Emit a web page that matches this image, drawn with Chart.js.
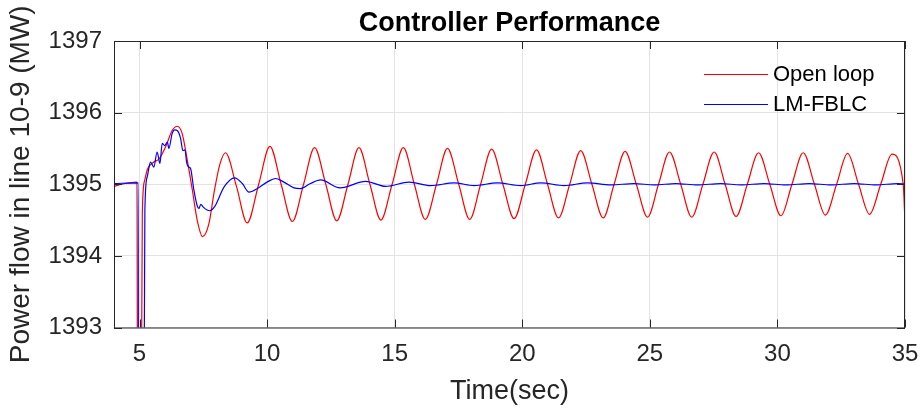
<!DOCTYPE html>
<html>
<head>
<meta charset="UTF-8">
<title>Controller Performance</title>
<script src="https://cdn.jsdelivr.net/npm/chart.js"></script>
<style>
  html, body { margin: 0; padding: 0; background: #fff; }
  #wrap { width: 921px; height: 412px; }
</style>
</head>
<body>
<div id="wrap"><canvas id="perfChart" width="921" height="412"></canvas></div>
<script>
// Values (time in sec, power in MW)
const openLoopTime = [
  4, 4.3, 4.6, 4.9, 4.93, 5.04, 5.11, 5.2, 5.3, 5.56, 5.76, 6.02, 6.28, 6.48, 6.67, 6.87,
  7.07, 7.26, 7.47, 7.72, 7.93, 8.15, 8.37, 8.8, 9.22, 9.67, 10.11, 10.55, 10.99, 11.43,
  11.86, 12.3, 12.73, 13.17, 13.6, 14.03, 14.46, 14.9, 15.34, 15.77, 16.2, 16.64, 17.07,
  17.51, 17.94, 18.37, 18.8, 19.24, 19.68, 20.12, 20.56, 20.99, 21.42, 21.86, 22.29, 22.73,
  23.17, 23.6, 24.03, 24.47, 24.91, 25.34, 25.77, 26.21, 26.64, 27.08, 27.52, 27.95, 28.38,
  28.82, 29.26, 29.7, 30.14, 30.57, 31.01, 31.45, 31.88, 32.32, 32.75, 33.18, 33.61, 34.05,
  34.49, 34.93, 35
];
const openLoopPower = [
  1394.97, 1395.0, 1395.02, 1395.03, 1390, 1390, 1394.6, 1395.05, 1395.2, 1395.31, 1395.35,
  1395.52, 1395.75, 1395.81, 1395.71, 1395.34, 1394.92, 1394.5, 1394.27, 1394.45, 1394.9,
  1395.28, 1395.44, 1394.97, 1394.46, 1395.0, 1395.53, 1395.0, 1394.48, 1395.0,
  1395.51, 1395.0, 1394.49, 1395.0, 1395.51, 1395.0, 1394.5, 1395.0, 1395.51, 1395.0,
  1394.51, 1395.0, 1395.5, 1395.0, 1394.51, 1395.0, 1395.49, 1395.0, 1394.52, 1395.0,
  1395.48, 1395.0, 1394.53, 1395.0, 1395.47, 1395.0, 1394.53, 1395.0, 1395.46, 1395.0,
  1394.54, 1395.0, 1395.45, 1395.0, 1394.54, 1395.0, 1395.45, 1395.0, 1394.55, 1395.0,
  1395.44, 1395.0, 1394.56, 1395.0, 1395.44, 1395.0, 1394.57, 1395.0, 1395.43, 1395.0,
  1394.58, 1395.0, 1395.42, 1395.0, 1394.47
];

const fblcTime = [
  4, 4.95, 4.96, 5.15, 5.21, 5.3, 5.43, 5.56, 5.69, 5.8, 5.89, 5.99, 6.09, 6.15, 6.28, 6.38,
  6.48, 6.61, 6.7, 6.78, 6.85, 6.93, 7.0, 7.13, 7.26, 7.33, 7.4, 7.5, 7.65, 7.75, 7.95,
  8.31, 8.73, 9.03, 9.29, 9.62, 10.0, 10.33, 10.66, 11.05, 11.31, 11.7, 12.1, 12.86, 13.86,
  14.65, 15.56, 16.41, 17.33, 18.11, 19.03, 19.94, 20.73, 21.64, 22.56, 23.47, 24.38, 25.17,
  26.02, 26.87, 27.78, 28.57, 29.48, 30.33, 31.25, 32.1, 33.01, 33.86, 34.71, 35
];
const fblcPower = [
  1395.01, 1395.02, 1390, 1390, 1394.64, 1395.1, 1395.31, 1395.24, 1395.45, 1395.29,
  1395.57, 1395.54, 1395.59, 1395.5, 1395.71, 1395.76, 1395.75, 1395.64, 1395.47, 1395.48,
  1395.3, 1395.24, 1395.22, 1394.92, 1394.7, 1394.66, 1394.72, 1394.68, 1394.64, 1394.63,
  1394.69, 1394.96, 1395.09, 1395.01, 1394.89, 1394.94, 1395.03, 1395.08, 1395.03, 1394.95,
  1394.94, 1395.01, 1395.06, 1394.95, 1395.04, 1394.97, 1395.03, 1394.98, 1395.02, 1394.98,
  1395.02, 1394.98, 1395.02, 1394.98, 1395.02, 1394.99, 1395.01, 1394.99, 1395.01, 1394.99,
  1395.01, 1394.99, 1395.01, 1394.99, 1395.01, 1394.99, 1395.01, 1394.99, 1395.01, 1395.0
];

const xTicks = [5, 10, 15, 20, 25, 30, 35];
const yTicks = [1393, 1394, 1395, 1396, 1397];

const toPoints = (xs, ys) => xs.map((x, i) => ({ x: x, y: ys[i] }));

const axisGrey = '#262626';
const fontFamily = '"Liberation Sans", Arial, Helvetica, sans-serif';

// MATLAB style frame: full box, inward ticks, legend without box, title
const matlabFrame = {
  id: 'matlabFrame',
  afterDraw(chart) {
    const { ctx, chartArea: a, scales } = chart;
    ctx.save();
    ctx.strokeStyle = axisGrey;
    ctx.lineWidth = 1;
    ctx.strokeRect(a.left + 0.5, a.top + 0.5, a.right - a.left - 1, a.bottom - a.top);

    const tl = 8;
    ctx.beginPath();
    xTicks.forEach(v => {
      const px = Math.round(scales.x.getPixelForValue(v)) + 0.5;
      ctx.moveTo(px, a.bottom); ctx.lineTo(px, a.bottom - tl);
      ctx.moveTo(px, a.top); ctx.lineTo(px, a.top + tl);
    });
    yTicks.forEach(v => {
      const py = Math.round(scales.y.getPixelForValue(v)) + 0.5;
      ctx.moveTo(a.left, py); ctx.lineTo(a.left + tl, py);
      ctx.moveTo(a.right, py); ctx.lineTo(a.right - tl, py);
    });
    ctx.stroke();

    // legend
    ctx.font = '22px ' + fontFamily;
    ctx.textBaseline = 'middle';
    ctx.textAlign = 'left';
    chart.data.datasets.forEach((ds, i) => {
      const y = 74 + i * 30 + 0.5;
      ctx.strokeStyle = ds.borderColor;
      ctx.beginPath();
      ctx.moveTo(704, y); ctx.lineTo(768, y);
      ctx.stroke();
      ctx.fillStyle = '#000';
      ctx.fillText(ds.label, 773, y);
    });

    // title
    ctx.font = 'bold 27px ' + fontFamily;
    ctx.textAlign = 'center';
    ctx.textBaseline = 'alphabetic';
    ctx.fillStyle = '#000';
    ctx.fillText('Controller Performance', (a.left + a.right) / 2, 31);
    ctx.restore();
  }
};

new Chart(document.getElementById('perfChart'), {
  type: 'line',
  data: {
    datasets: [
      {
        label: 'Open loop',
        data: toPoints(openLoopTime, openLoopPower),
        borderColor: '#ff0000',
        borderWidth: 1.2,
        pointRadius: 0,
        cubicInterpolationMode: 'monotone',
        order: 2
      },
      {
        label: 'LM-FBLC',
        data: toPoints(fblcTime, fblcPower),
        borderColor: '#0000ff',
        borderWidth: 1.2,
        pointRadius: 0,
        cubicInterpolationMode: 'monotone',
        order: 1
      }
    ]
  },
  options: {
    responsive: false,
    animation: false,
    layout: { padding: { left: 0, right: 16, top: 41, bottom: 0 } },
    plugins: {
      legend: { display: false },
      tooltip: { enabled: false }
    },
    scales: {
      x: {
        type: 'linear',
        min: 4,
        max: 35,
        afterBuildTicks: s => { s.ticks = xTicks.map(v => ({ value: v })); },
        afterFit: s => { s.height = 84.5; s.paddingLeft = 0; s.paddingRight = 0; },
        grid: { color: '#e3e3e3', drawTicks: false },
        border: { display: false },
        ticks: { color: axisGrey, font: { family: fontFamily, size: 24 }, padding: 12 },
        title: {
          display: true,
          text: 'Time(sec)',
          color: axisGrey,
          font: { family: fontFamily, size: 27 },
          padding: { top: 0, bottom: 4 }
        }
      },
      y: {
        min: 1393,
        max: 1397,
        afterBuildTicks: s => { s.ticks = yTicks.map(v => ({ value: v })); },
        afterFit: s => { s.width = 114; s.paddingTop = 0; s.paddingBottom = 0; },
        grid: { color: '#e3e3e3', drawTicks: false },
        border: { display: false },
        ticks: {
          color: axisGrey,
          font: { family: fontFamily, size: 24 },
          padding: 12,
          callback: v => String(v)
        },
        title: {
          display: true,
          text: 'Power flow in line 10-9 (MW)',
          color: axisGrey,
          font: { family: fontFamily, size: 28 },
          padding: { top: 4, bottom: 0 }
        }
      }
    }
  },
  plugins: [matlabFrame]
});
</script>
</body>
</html>
